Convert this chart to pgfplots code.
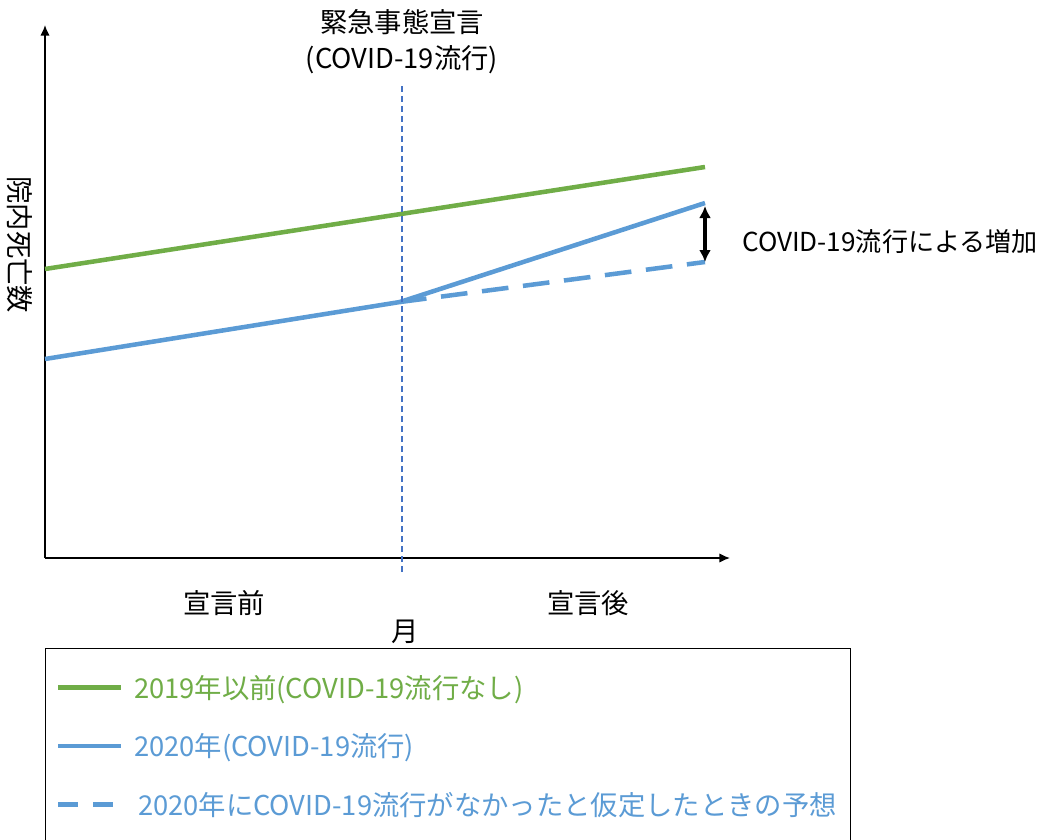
\documentclass[border=0pt]{standalone}
\usepackage{pgfplots}
\pgfplotsset{compat=1.18}
\usetikzlibrary{arrows.meta}
\usepackage{fontspec}
\setmainfont{Noto Sans CJK JP}
\definecolor{cgreen}{HTML}{70AD47}
\definecolor{cblue}{HTML}{5B9BD5}
\definecolor{cvline}{HTML}{4472C4}
\pgfplotsset{dashlegend/.style={legend image code/.code={\draw[##1, dash pattern=on 15pt off 11pt] (0pt,0pt) -- (41pt,0pt);}}}
\begin{document}
\begin{tikzpicture}
\path[use as bounding box] (-33.75pt,-210.75pt) rectangle (750.75pt,418.5pt);
\begin{axis}[
  x=0.75pt, y=0.75pt,
  xmin=0, xmax=685, ymin=0, ymax=533,
  enlargelimits=false,
  axis lines=left,
  axis line style={line width=1pt, -{Latex[length=8pt,width=7pt]}},
  xtick=\empty, ytick=\empty,
  clip=false,
  font=\fontsize{20.5}{24}\selectfont,
  legend style={at={(axis cs:0,-90)}, anchor=north west, draw=black, line width=0.8pt,
    inner xsep=8pt, inner ysep=18pt, row sep=21pt,
    nodes={inner sep=2pt, anchor=west}, font=\fontsize{20.5}{24}\selectfont},
  legend cell align=left,
  legend image code/.code={\draw[#1] (0pt,0pt) -- (47pt,0pt);},
]
\addplot[cgreen, line width=3.4pt] coordinates {(0,289) (660,391)};
\addlegendentry{\hspace{6pt}\textcolor{cgreen}{2019年以前(COVID-19流行なし)}}
\addplot[cblue, line width=3.4pt] coordinates {(0,199) (355,256) (660,355)};
\addlegendentry{\hspace{6pt}\textcolor{cblue}{2020年(COVID-19流行)}}
\addplot[cblue, line width=3.4pt, dash pattern=on 20pt off 11pt, dashlegend]
  coordinates {(355,256) (660,296)};
\addlegendentry{\hspace{9pt}\textcolor{cblue}{2020年にCOVID-19流行がなかったと仮定したときの予想}}
\addplot[cvline, line width=1pt, dash pattern=on 4.5pt off 3pt, forget plot] coordinates {(357,-14) (357,473)};
\addplot[black, line width=2.4pt, {Latex[length=9pt,width=9pt]}-{Latex[length=9pt,width=9pt]}, forget plot] coordinates {(660,352) (660,296)};
\node at (axis cs:357,536) {緊急事態宣言};
\node at (axis cs:357,498) {(COVID-19流行)};
\node[anchor=west, inner sep=0pt, font=\fontsize{19.6}{24}\selectfont] at (axis cs:697,316) {COVID-19流行による増加};
\node[rotate=-90] at (axis cs:-25,313) {院内死亡数};
\node at (axis cs:179,-45) {宣言前};
\node at (axis cs:543,-45) {宣言後};
\node at (axis cs:360,-74) {月};
\end{axis}
\end{tikzpicture}
\end{document}
